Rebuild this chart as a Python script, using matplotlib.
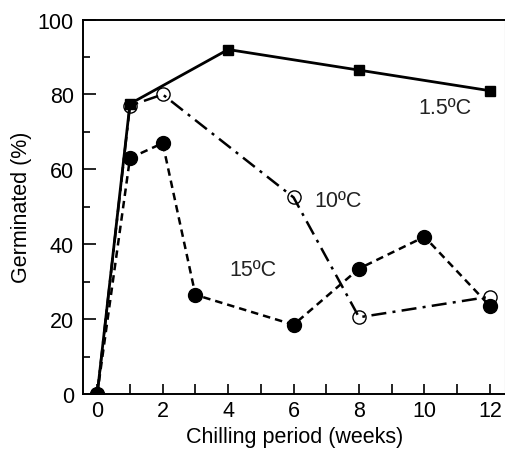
import matplotlib
matplotlib.use('Agg')
import matplotlib.pyplot as plt
from matplotlib.ticker import MultipleLocator

plt.rcParams['font.family'] = ['Liberation Sans', 'DejaVu Sans']
plt.rcParams['font.size'] = 15.5

# =============================================================
# DATA
# =============================================================
weeks_15 = [0, 1, 4, 8, 12]      # 1.5 C
germ_15 = [0, 77.5, 92, 86.5, 81]

weeks_10 = [0, 1, 2, 6, 8, 12]   # 10 C
germ_10 = [0, 77, 80, 52.5, 20.5, 26]

weeks_150 = [0, 1, 2, 3, 6, 8, 10, 12]   # 15 C
germ_150 = [0, 63, 67, 26.5, 18.5, 33.5, 42, 23.5]

labels = ['1.5ºC', '10ºC', '15ºC']
label_pos = [(10.63, 76.5), (7.36, 51.7), (4.76, 33.3)]

# =============================================================
# PLOT
# =============================================================
fig = plt.figure(figsize=(5.06, 4.52), dpi=100)
ax = fig.add_axes([0.165, 0.126, 0.833, 0.8285])

ax.plot(weeks_15, germ_15, color='black', linestyle='-', linewidth=2,
        marker='s', markersize=7.5, zorder=3)
ax.plot(weeks_10, germ_10, color='black', linestyle=(0, (6, 2.5, 1.2, 2.5)),
        linewidth=1.8, marker='o', markersize=9.5, markerfacecolor='none',
        markeredgewidth=1.0, zorder=4)
ax.plot(weeks_150, germ_150, color='black', linestyle=(0, (3, 2)),
        linewidth=1.8, marker='o', markersize=10, zorder=5)

for txt, (x, y) in zip(labels, label_pos):
    ax.text(x, y, txt, ha='center', va='center', fontsize=15.5, color='#222222')

ax.set_xlim(-0.42, 12.46)
ax.set_ylim(0, 100)

ax.xaxis.set_major_locator(MultipleLocator(2))
ax.xaxis.set_minor_locator(MultipleLocator(1))
ax.yaxis.set_major_locator(MultipleLocator(20))
ax.yaxis.set_minor_locator(MultipleLocator(10))

ax.tick_params(axis='both', which='both', direction='in', width=1.2,
               labelsize=15.5, colors='black')
ax.tick_params(axis='x', which='both', length=7, pad=4)
ax.tick_params(axis='y', which='major', length=9, pad=7)
ax.tick_params(axis='y', which='minor', length=5)
ax.tick_params(top=False, right=False)

for side in ['left', 'bottom', 'top']:
    ax.spines[side].set_linewidth(1.4)
ax.spines['right'].set_linewidth(0.8)
ax.spines['right'].set_color('#999999')

ax.set_xlabel('Chilling period (weeks)', fontsize=15.5, labelpad=4)
ax.set_ylabel('Germinated (%)', fontsize=15.5, labelpad=4)

fig.savefig('out.png', dpi=100)
